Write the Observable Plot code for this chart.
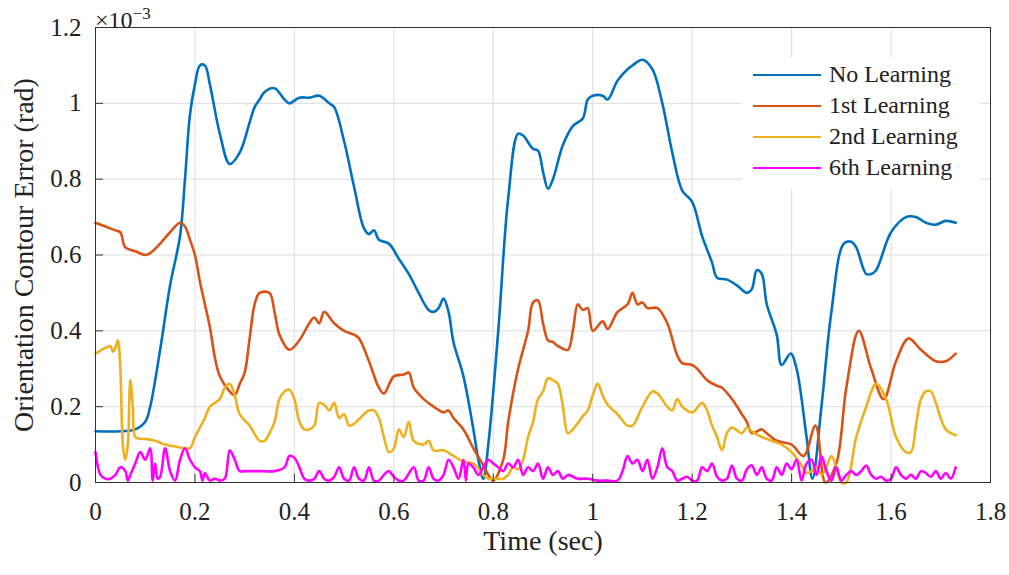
<!DOCTYPE html>
<html><head><meta charset="utf-8">
<script src="https://cdn.jsdelivr.net/npm/d3@7"></script>
<script src="https://cdn.jsdelivr.net/npm/@observablehq/plot@0.6"></script>
<style>
body{margin:0;background:#fff;font-family:"Liberation Serif",serif;}
#wrap{position:relative;width:1009px;height:575px;}
#legend{position:absolute;left:742px;top:57px;width:238px;background:#fff;padding:2px 0 6px 0;font-size:24px;color:#222}
#legend div{height:31px;display:flex;align-items:center}
#legend span.l{display:inline-block;width:68px;height:0;border-top:2.5px solid;margin:0 8px 0 11px}
#exp{position:absolute;left:95px;top:4px;font-size:24px;color:#222}
</style></head><body>
<div id="wrap"><div id="chart"></div>
<div id="exp">×10<sup style="font-size:17px">−3</sup></div>
<div id="legend"></div></div>
<script>
const seriesNames=["No Learning","1st Learning","2nd Learning","6th Learning"];
const colors=["#0072BD","#D95319","#EDB120","#FF00FF"];
const xTicks=[0,0.2,0.4,0.6,0.8,1,1.2,1.4,1.6,1.8];
const yTicks=[0,0.2,0.4,0.6,0.8,1,1.2];
const noLearning=[[0,0.135],[0.05,0.135],[0.08,0.14],[0.1,0.16],[0.11,0.2],[0.13,0.35],[0.15,0.52],[0.17,0.65],[0.18,0.8],[0.19,0.97],[0.2,1.05],[0.21,1.1],[0.22,1.1],[0.23,1.05],[0.25,0.92],[0.27,0.84],[0.29,0.87],[0.31,0.95],[0.32,0.99],[0.33,1.01],[0.34,1.03],[0.36,1.04],[0.38,1.01],[0.39,1.0],[0.41,1.015],[0.43,1.015],[0.45,1.02],[0.47,1.0],[0.48,0.99],[0.5,0.9],[0.52,0.78],[0.54,0.67],[0.55,0.655],[0.56,0.665],[0.57,0.64],[0.59,0.63],[0.61,0.59],[0.63,0.55],[0.65,0.5],[0.67,0.455],[0.68,0.45],[0.69,0.46],[0.7,0.485],[0.71,0.45],[0.72,0.37],[0.74,0.28],[0.76,0.14],[0.77,0.06],[0.78,0.01],[0.79,0.1],[0.81,0.4],[0.83,0.75],[0.85,0.92],[0.86,0.915],[0.88,0.88],[0.89,0.875],[0.9,0.82],[0.91,0.775],[0.92,0.8],[0.94,0.89],[0.96,0.94],[0.98,0.96],[0.99,1.01],[1.0,1.02],[1.02,1.02],[1.03,1.01],[1.05,1.06],[1.07,1.09],[1.08,1.1],[1.1,1.115],[1.12,1.09],[1.14,1.0],[1.16,0.87],[1.18,0.77],[1.2,0.74],[1.22,0.65],[1.24,0.58],[1.25,0.54],[1.27,0.535],[1.29,0.52],[1.31,0.5],[1.32,0.51],[1.33,0.56],[1.34,0.55],[1.35,0.47],[1.37,0.39],[1.38,0.31],[1.398,0.34],[1.41,0.3],[1.43,0.12],[1.442,0.01],[1.46,0.2],[1.48,0.45],[1.505,0.63],[1.52,0.635],[1.53,0.62],[1.55,0.55],[1.56,0.55],[1.57,0.56],[1.6,0.66],[1.63,0.7],[1.65,0.7],[1.67,0.685],[1.69,0.68],[1.71,0.69],[1.73,0.685]];
const learning1=[[0,0.685],[0.02,0.675],[0.04,0.665],[0.05,0.66],[0.06,0.62],[0.08,0.61],[0.1,0.6],[0.11,0.605],[0.13,0.63],[0.15,0.66],[0.17,0.685],[0.18,0.675],[0.19,0.64],[0.2,0.6],[0.21,0.53],[0.22,0.47],[0.23,0.41],[0.24,0.33],[0.25,0.28],[0.27,0.24],[0.28,0.23],[0.29,0.26],[0.3,0.29],[0.31,0.38],[0.32,0.47],[0.33,0.5],[0.35,0.5],[0.36,0.45],[0.37,0.39],[0.39,0.35],[0.41,0.375],[0.43,0.42],[0.44,0.435],[0.45,0.42],[0.46,0.45],[0.48,0.42],[0.5,0.4],[0.52,0.39],[0.53,0.38],[0.55,0.32],[0.57,0.25],[0.58,0.235],[0.6,0.28],[0.62,0.285],[0.63,0.29],[0.64,0.25],[0.66,0.22],[0.68,0.2],[0.7,0.185],[0.71,0.19],[0.72,0.17],[0.74,0.14],[0.76,0.09],[0.78,0.045],[0.79,0.02],[0.8,0.005],[0.82,0.06],[0.83,0.16],[0.85,0.3],[0.87,0.4],[0.88,0.475],[0.89,0.48],[0.9,0.42],[0.91,0.375],[0.92,0.37],[0.93,0.36],[0.95,0.35],[0.96,0.4],[0.97,0.47],[0.98,0.455],[0.99,0.46],[1.0,0.4],[1.02,0.425],[1.03,0.405],[1.05,0.45],[1.07,0.47],[1.08,0.5],[1.09,0.47],[1.1,0.475],[1.11,0.46],[1.13,0.46],[1.15,0.42],[1.17,0.335],[1.18,0.315],[1.2,0.31],[1.21,0.3],[1.23,0.27],[1.25,0.255],[1.26,0.25],[1.28,0.22],[1.3,0.18],[1.31,0.16],[1.32,0.13],[1.34,0.14],[1.35,0.13],[1.37,0.11],[1.4,0.1],[1.424,0.07],[1.448,0.15],[1.468,0.0],[1.49,0.05],[1.51,0.25],[1.535,0.4],[1.56,0.3],[1.585,0.22],[1.61,0.32],[1.635,0.38],[1.66,0.35],[1.69,0.32],[1.71,0.32],[1.73,0.34]];
const learning2=[[0,0.34],[0.02,0.355],[0.03,0.36],[0.035,0.345],[0.04,0.355],[0.045,0.375],[0.05,0.3],[0.055,0.1],[0.06,0.06],[0.065,0.1],[0.07,0.27],[0.075,0.2],[0.08,0.12],[0.09,0.115],[0.1,0.115],[0.12,0.11],[0.14,0.1],[0.16,0.095],[0.18,0.09],[0.19,0.09],[0.2,0.12],[0.22,0.17],[0.23,0.2],[0.25,0.22],[0.26,0.25],[0.27,0.26],[0.28,0.23],[0.29,0.18],[0.31,0.15],[0.33,0.11],[0.34,0.11],[0.35,0.13],[0.36,0.16],[0.37,0.22],[0.38,0.24],[0.39,0.245],[0.4,0.22],[0.41,0.16],[0.42,0.14],[0.43,0.14],[0.44,0.15],[0.45,0.21],[0.46,0.205],[0.47,0.19],[0.48,0.21],[0.49,0.17],[0.5,0.18],[0.51,0.15],[0.52,0.155],[0.54,0.18],[0.55,0.19],[0.56,0.19],[0.57,0.17],[0.58,0.12],[0.59,0.08],[0.6,0.09],[0.61,0.14],[0.62,0.12],[0.63,0.16],[0.64,0.11],[0.66,0.1],[0.67,0.11],[0.68,0.085],[0.7,0.085],[0.72,0.07],[0.74,0.055],[0.76,0.05],[0.78,0.02],[0.79,0.01],[0.8,0.01],[0.82,0.01],[0.83,0.02],[0.84,0.04],[0.85,0.035],[0.86,0.06],[0.87,0.12],[0.88,0.16],[0.89,0.22],[0.9,0.24],[0.91,0.275],[0.92,0.27],[0.93,0.26],[0.94,0.2],[0.95,0.13],[0.96,0.14],[0.98,0.175],[0.99,0.19],[1.0,0.23],[1.01,0.26],[1.02,0.23],[1.03,0.205],[1.05,0.18],[1.07,0.15],[1.08,0.15],[1.1,0.2],[1.12,0.24],[1.13,0.235],[1.15,0.2],[1.16,0.19],[1.17,0.22],[1.18,0.2],[1.2,0.185],[1.22,0.21],[1.23,0.19],[1.24,0.15],[1.25,0.12],[1.26,0.085],[1.27,0.13],[1.28,0.145],[1.3,0.13],[1.31,0.145],[1.32,0.135],[1.34,0.12],[1.36,0.11],[1.38,0.1],[1.4,0.08],[1.42,0.045],[1.43,0.025],[1.44,0.03],[1.45,0.04],[1.46,0.02],[1.47,0.04],[1.48,0.07],[1.49,0.04],[1.5,0.0],[1.51,0.0],[1.53,0.12],[1.55,0.2],[1.57,0.26],[1.59,0.22],[1.61,0.12],[1.63,0.08],[1.64,0.08],[1.65,0.15],[1.66,0.22],[1.67,0.24],[1.68,0.24],[1.69,0.21],[1.71,0.14],[1.73,0.125]];
const learning6=[[0,0.08],[0.01,0.02],[0.02,0.01],[0.03,0.01],[0.04,0.02],[0.05,0.04],[0.06,0.03],[0.065,0.005],[0.07,0.02],[0.08,0.05],[0.09,0.08],[0.1,0.06],[0.11,0.09],[0.115,0.005],[0.12,0.05],[0.125,0.01],[0.13,0.015],[0.14,0.09],[0.15,0.03],[0.16,0.005],[0.17,0.06],[0.18,0.09],[0.19,0.06],[0.2,0.04],[0.21,0.03],[0.215,0.005],[0.22,0.025],[0.23,0.005],[0.24,0.01],[0.25,0.005],[0.26,0.01],[0.27,0.085],[0.28,0.06],[0.29,0.03],[0.3,0.03],[0.33,0.03],[0.36,0.03],[0.38,0.04],[0.39,0.07],[0.4,0.065],[0.41,0.04],[0.42,0.01],[0.43,0.005],[0.44,0.01],[0.45,0.03],[0.46,0.01],[0.47,0.005],[0.48,0.015],[0.49,0.04],[0.5,0.01],[0.51,0.005],[0.52,0.04],[0.53,0.01],[0.54,0.005],[0.55,0.04],[0.56,0.005],[0.57,0.005],[0.58,0.02],[0.59,0.03],[0.6,0.015],[0.61,0.005],[0.62,0.005],[0.64,0.04],[0.65,0.005],[0.66,0.005],[0.67,0.04],[0.68,0.01],[0.69,0.005],[0.7,0.02],[0.71,0.06],[0.72,0.04],[0.73,0.01],[0.74,0.06],[0.745,0.005],[0.75,0.05],[0.76,0.04],[0.77,0.02],[0.78,0.04],[0.79,0.06],[0.8,0.05],[0.81,0.04],[0.82,0.03],[0.83,0.05],[0.84,0.04],[0.85,0.06],[0.86,0.02],[0.87,0.04],[0.88,0.03],[0.89,0.05],[0.9,0.01],[0.91,0.04],[0.92,0.02],[0.93,0.03],[0.94,0.01],[0.95,0.02],[0.97,0.01],[0.99,0.01],[1.01,0.005],[1.03,0.005],[1.05,0.005],[1.06,0.03],[1.07,0.07],[1.08,0.05],[1.09,0.06],[1.1,0.03],[1.11,0.06],[1.12,0.01],[1.13,0.04],[1.14,0.09],[1.15,0.04],[1.16,0.03],[1.17,0.005],[1.18,0.01],[1.19,0.015],[1.2,0.005],[1.21,0.005],[1.22,0.04],[1.23,0.03],[1.24,0.05],[1.25,0.015],[1.26,0.005],[1.27,0.01],[1.28,0.045],[1.29,0.01],[1.3,0.005],[1.31,0.035],[1.32,0.045],[1.33,0.02],[1.34,0.04],[1.35,0.01],[1.36,0.005],[1.37,0.04],[1.38,0.02],[1.39,0.05],[1.4,0.035],[1.41,0.06],[1.42,0.005],[1.43,0.05],[1.44,0.06],[1.45,0.02],[1.46,0.07],[1.47,0.03],[1.48,0.005],[1.49,0.04],[1.5,0.005],[1.51,0.02],[1.52,0.03],[1.53,0.02],[1.54,0.03],[1.55,0.045],[1.56,0.02],[1.57,0.01],[1.58,0.015],[1.59,0.005],[1.6,0.01],[1.61,0.04],[1.62,0.02],[1.63,0.01],[1.64,0.02],[1.65,0.01],[1.66,0.03],[1.67,0.025],[1.68,0.015],[1.69,0.03],[1.7,0.01],[1.71,0.025],[1.72,0.01],[1.73,0.04]];
const all=[noLearning,learning1,learning2,learning6];
const lineMarks=all.map((s,i)=>Plot.line(s,{x:d=>d[0],y:d=>d[1],stroke:colors[i],strokeWidth:2.6,curve:"catmull-rom"}));
const fmt=d=>d3.format("")(d);
const chart=Plot.plot({
  width:1009,height:575,marginLeft:95,marginRight:19,marginTop:27,marginBottom:93,
  style:{fontFamily:"Liberation Serif, serif",fontSize:"24px",color:"#222",background:"#fff"},
  x:{domain:[0,1.8],ticks:xTicks,tickFormat:fmt,label:null},
  y:{domain:[0,1.2],ticks:yTicks,tickFormat:fmt,label:null},
  marks:[
    Plot.gridX(xTicks,{stroke:"#ddd",strokeOpacity:1}),
    Plot.gridY(yTicks,{stroke:"#ddd",strokeOpacity:1}),
    ...lineMarks,
    Plot.ruleX(xTicks,{y1:0,y2:0.022,stroke:"#333"}),
    Plot.ruleY(yTicks,{x1:0,x2:0.016,stroke:"#333"}),
    Plot.frame({stroke:"#333"}),
    Plot.axisX(xTicks,{tickSize:0,tickPadding:20,fontSize:25,label:null,tickFormat:fmt}),
    Plot.axisY(yTicks,{tickSize:0,tickPadding:14,fontSize:25,label:null,tickFormat:fmt}),
    Plot.text(["Time (sec)"],{frameAnchor:"bottom",dy:67,fontSize:28,fill:"#222"}),
    Plot.text(["Orientation Contour Error (rad)"],{frameAnchor:"left",textAnchor:"middle",dx:-71,rotate:-90,fontSize:28,fill:"#222"})
  ]
});
document.getElementById("chart").append(chart);
const lg=document.getElementById("legend");
seriesNames.forEach((n,i)=>{const d=document.createElement("div");d.innerHTML=`<span class="l" style="border-color:${colors[i]}"></span>${n}`;lg.append(d);});
</script></body></html>
